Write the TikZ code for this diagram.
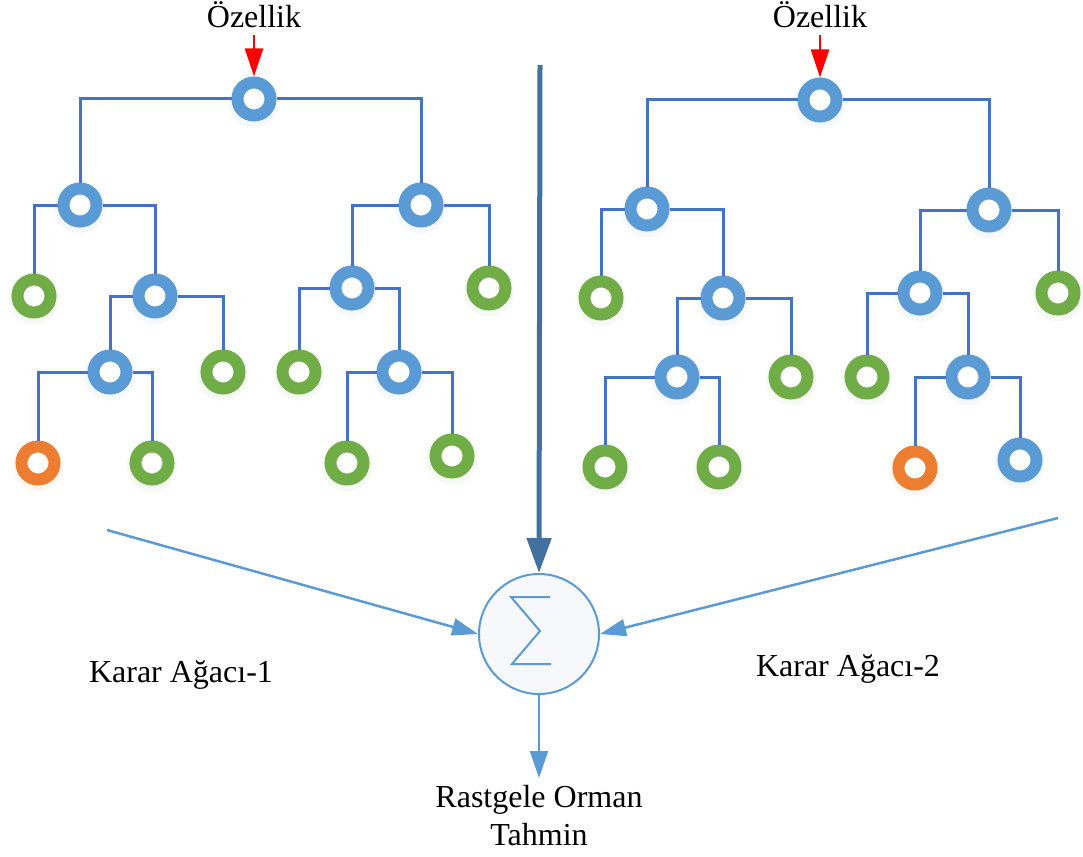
\documentclass[tikz,border=0pt]{standalone}
\usepackage{fontspec}
\setmainfont{Liberation Serif}
\usetikzlibrary{arrows.meta}

\definecolor{nodeblue}{HTML}{5B9BD5}
\definecolor{nodegreen}{HTML}{70AD47}
\definecolor{nodeorange}{HTML}{ED7D31}
\definecolor{branchblue}{HTML}{4472C4}
\definecolor{mainarrow}{HTML}{41719C}
\definecolor{sumfill}{HTML}{F6F8FC}

\tikzset{
  ring/.style={circle, draw=#1, line width=12pt, fill=white,
    minimum size=33pt, inner sep=0pt,
    preaction={draw=#1, draw opacity=0.06, line width=18pt,
      transform canvas={yshift=-3pt}}},
  bnode/.style={ring=nodeblue},
  gnode/.style={ring=nodegreen},
  onode/.style={ring=nodeorange},
  branch/.style={draw=branchblue, line width=3pt},
  label/.style={font=\fontsize{32}{38}\selectfont, inner sep=0pt},
  featarrow/.style={draw=red, line width=2.5pt, -{Triangle[length=28pt,width=18pt]}},
  mainflow/.style={draw=mainarrow, line width=5pt, -{Triangle[length=35pt,width=24pt]}},
  voteflow/.style={draw=nodeblue, line width=2.5pt, -{Triangle[length=26pt,width=17pt]}},
  outflow/.style={draw=nodeblue, line width=2.5pt, -{Triangle[length=27pt,width=18pt]}},
}

\begin{document}
\begin{tikzpicture}[x=1pt, y=-1pt]
\useasboundingbox (0,0) rectangle (1083,856);

% ---------- decision tree 1 ----------
\node[bnode] (r1)   at (254,99)  {};
\node[bnode] (a)    at (80,205)  {};
\node[bnode] (b)    at (421,205) {};
\node[gnode] (a1)   at (34,296)  {};
\node[bnode] (a2)   at (155,296) {};
\node[bnode] (a21)  at (110,372) {};
\node[gnode] (a22)  at (223,372) {};
\node[onode] (a211) at (38,463)  {};
\node[gnode] (a212) at (152,463) {};
\node[bnode] (b1)   at (352,288) {};
\node[gnode] (b2)   at (489,288) {};
\node[gnode] (b11)  at (299,372) {};
\node[bnode] (b12)  at (399,372) {};
\node[gnode] (b121) at (347,463) {};
\node[gnode] (b122) at (452,456) {};

\foreach \p/\c in {r1/a, r1/b, a/a1, a/a2, a2/a21, a2/a22, a21/a211, a21/a212,
                   b/b1, b/b2, b1/b11, b1/b12, b12/b121, b12/b122}
  \draw[branch] (\p) -| (\c);

% ---------- decision tree 2 ----------
\node[bnode] (r2)   at (820,100)  {};
\node[bnode] (c)    at (647,209)  {};
\node[bnode] (d)    at (989,210)  {};
\node[gnode] (c1)   at (601,298)  {};
\node[bnode] (c2)   at (723,298)  {};
\node[bnode] (c21)  at (677,377)  {};
\node[gnode] (c22)  at (791,377)  {};
\node[gnode] (c211) at (605,467)  {};
\node[gnode] (c212) at (719,467)  {};
\node[bnode] (d1)   at (920,293)  {};
\node[gnode] (d2)   at (1058,293) {};
\node[gnode] (d11)  at (867,377)  {};
\node[bnode] (d12)  at (968,377)  {};
\node[onode] (d121) at (915,468)  {};
\node[bnode] (d122) at (1020,460) {};

\foreach \p/\c in {r2/c, r2/d, c/c1, c/c2, c2/c21, c2/c22, c21/c211, c21/c212,
                   d/d1, d/d2, d1/d11, d1/d12, d12/d121, d12/d122}
  \draw[branch] (\p) -| (\c);

% ---------- feature inputs ----------
\node[label, anchor=base] (oz1) at (254,28) {Özellik};
\node[label, anchor=base] (oz2) at (820,28) {Özellik};
\draw[featarrow] ([yshift=-6pt]oz1.south) -- (r1);
\draw[featarrow] ([yshift=-6pt]oz2.south) -- (r2);

% ---------- aggregation ----------
\node[circle, draw=nodeblue, line width=2pt, fill=sumfill,
      minimum size=120pt, inner sep=0pt] (sum) at (539,634) {};
\begin{scope}[shift={(sum.center)}]
  \draw[nodeblue, line width=2pt, line join=miter]
    (11,-37) -- (-28,-37) -- (1,-3) -- (-27,30) -- (12,30);
\end{scope}

\coordinate (feed) at (540,65);
\coordinate (t1) at (107,530);
\coordinate (t2) at (1058,518);
\draw[mainflow] (feed) -- (sum.north);
\draw[voteflow] (t1) -- (sum.west);
\draw[voteflow] (t2) -- (sum.east);

\node[label, anchor=base] (k1) at (181,682) {Karar Ağacı-1};
\node[label, anchor=base] (k2) at (848,676) {Karar Ağacı-2};

\node[label, align=center, anchor=north] (res) at (539,785)
  {Rastgele Orman\\Tahmin};
\draw[outflow, shorten >=7pt] (sum) -- (res);

\end{tikzpicture}
\end{document}
